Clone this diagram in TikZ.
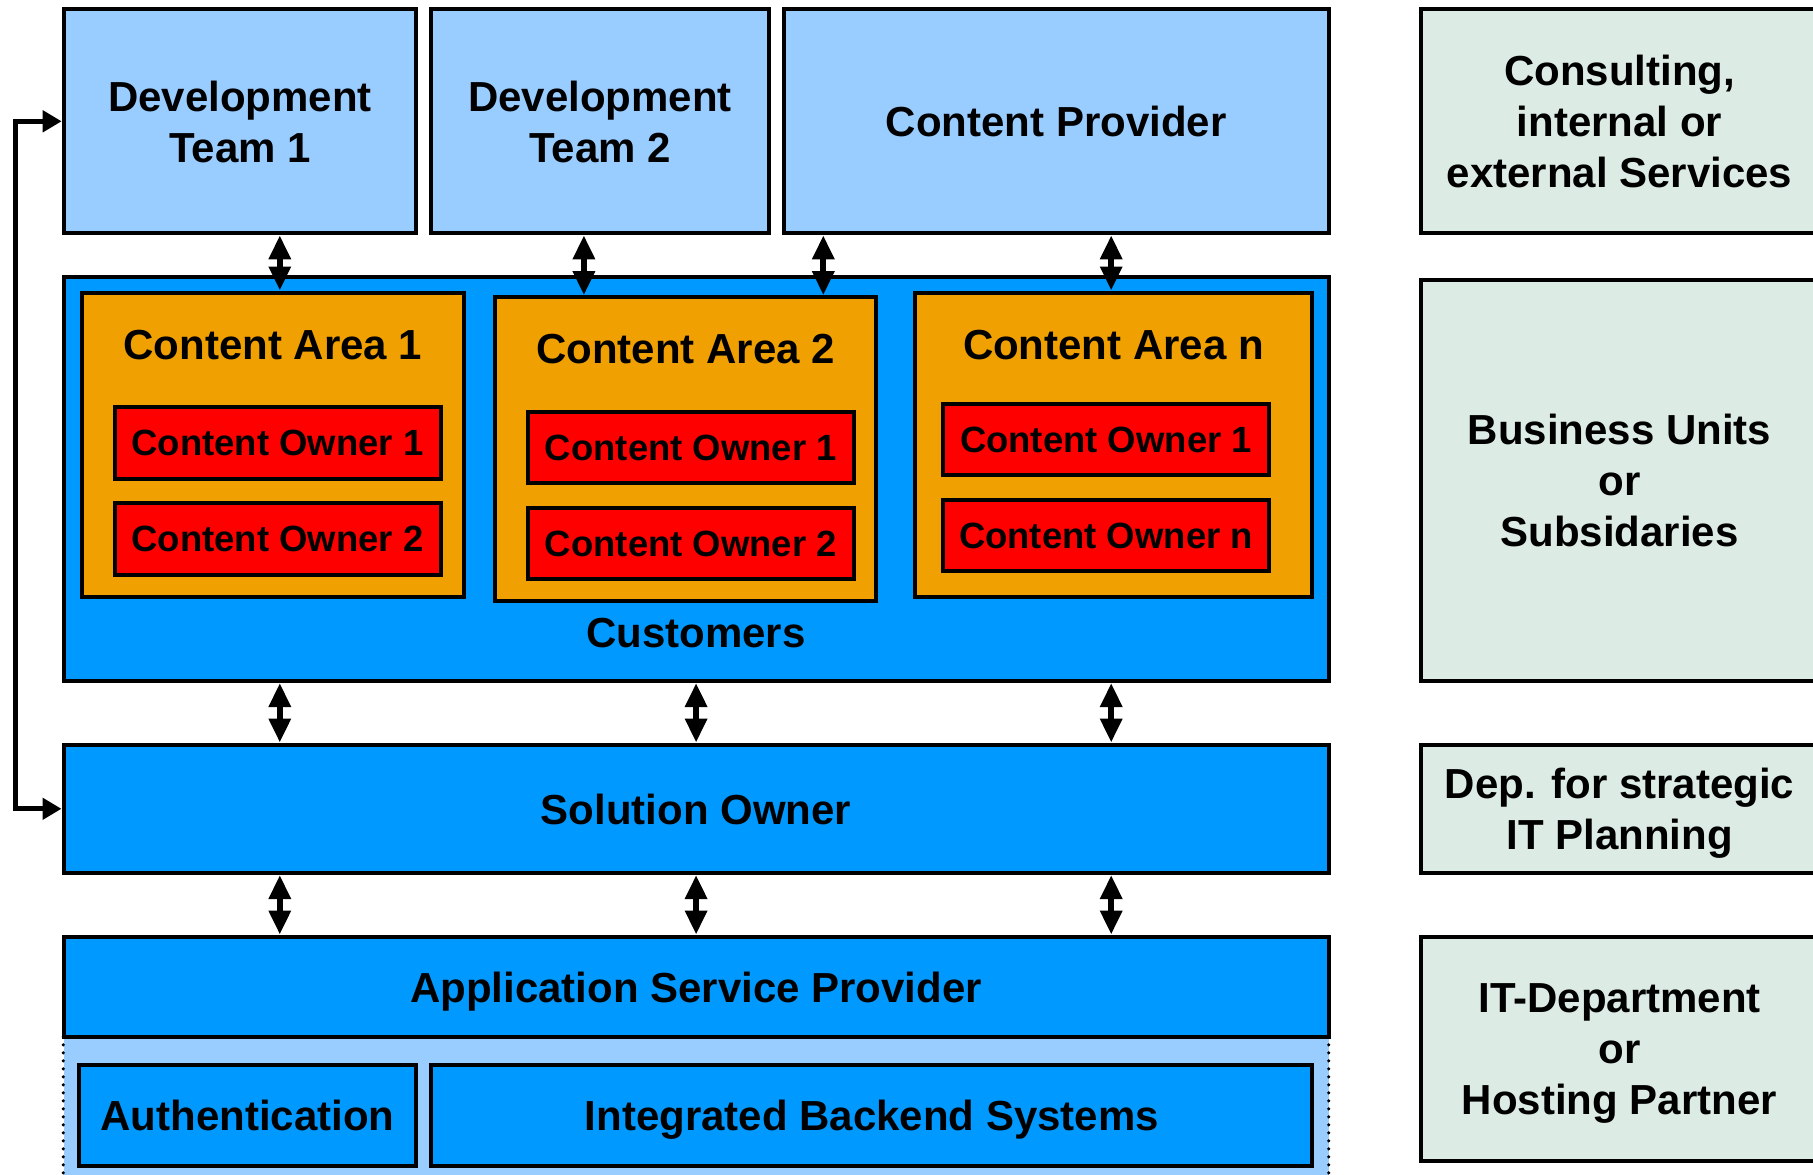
\documentclass[tikz,border=0pt]{standalone}
\usepackage{fontspec}
\setmainfont{Liberation Sans}
\usetikzlibrary{arrows.meta}
\definecolor{lblue}{HTML}{99CCFF}
\definecolor{mblue}{HTML}{0099FF}
\definecolor{orng}{HTML}{F0A000}
\definecolor{rd}{HTML}{FF0000}
\definecolor{grn}{HTML}{DCEBE3}
\begin{document}
\begin{tikzpicture}[x=1pt,y=-1pt,
  box/.style={draw=black, line width=4pt, inner sep=0pt, align=center, text depth=0pt,
    font=\fontsize{42}{51}\selectfont\bfseries, text=black},
  devbox/.style={box, fill=lblue, minimum height=224pt},
  areabox/.style={box, fill=orng, minimum height=304pt},
  ownerbox/.style={box, fill=rd, minimum width=326pt, minimum height=71.7pt,
    font=\fontsize{36.5}{44}\selectfont\bfseries},
  sidebox/.style={box, fill=grn, minimum width=397pt},
  bluebox/.style={box, fill=mblue},
  lbl/.style={inner sep=0pt, align=center, text depth=0pt, font=\fontsize{42}{51}\selectfont\bfseries},
  biarr/.style={line width=6pt, {Triangle[length=24pt,width=21pt]}-{Triangle[length=24pt,width=21pt]}},
  looparr/.style={line width=5pt, line join=miter, {Triangle[length=19pt,width=21pt]}-{Triangle[length=19pt,width=21pt]}},
  dotline/.style={line width=3.5pt, line cap=round, dash pattern=on 0pt off 8pt}
]
\fill[white] (0,0) rectangle (1813,1175);
\useasboundingbox (0,0) rectangle (1813,1175);

% top row
\node[devbox, minimum width=352.7pt] (dev1) at (240,121.3) {Development\\Team 1};
\node[devbox, minimum width=337.6pt] (dev2) at (600.1,121.3) {Development\\Team 2};
\node[devbox, minimum width=544.5pt] (cp) at (1056.3,121.3) {Content Provider};
\node[sidebox, minimum height=224pt] (cons) at (1619.5,121.3) {Consulting,\\internal or\\external Services};

% customers
\node[bluebox, minimum width=1265pt, minimum height=404pt] (cust) at (696,479) {};
\node[lbl] (custl) at (696,632.5) {Customers};

\node[areabox, minimum width=381.6pt] (ca1) at (272.9,444.5) {};
\node[areabox, minimum width=381.5pt] (ca2) at (685.6,449.2) {};
\node[areabox, minimum width=397.8pt] (can) at (1113.5,444.5) {};
\node[lbl] (ca1t) at (272.9,344.6) {Content Area 1};
\node[lbl] (ca2t) at (685.6,349.2) {Content Area 2};
\node[lbl] (cant) at (1113.5,344.6) {Content Area n};

\node[ownerbox] (o11) at (277.5,442.9) {Content Owner 1};
\node[ownerbox] (o12) at (277.5,538.9) {Content Owner 2};
\node[ownerbox] (o21) at (690.9,447.5) {Content Owner 1};
\node[ownerbox] (o22) at (690.9,543.5) {Content Owner 2};
\node[ownerbox] (on1) at (1106,439.4) {Content Owner 1};
\node[ownerbox] (onn) at (1106,535.4) {Content Owner n};

\node[sidebox, minimum height=401pt] (bu) at (1619.5,480.4) {Business Units\\or\\Subsidaries};

% solution owner
\node[bluebox, minimum width=1265pt, minimum height=128.4pt] (so) at (696,808.8) {Solution Owner};
\node[sidebox, minimum height=128.4pt] (dep) at (1619.5,808.8) {Dep. for strategic\\IT Planning};

% ASP area
\fill[lblue] (63.6,1037) rectangle (1328.5,1180);
\node[inner sep=0pt, minimum width=1265pt, minimum height=143pt] (aspzone) at (696,1108.5) {};
\draw[dotline] (aspzone.north west) -- (aspzone.south west);
\draw[dotline] (aspzone.north east) -- (aspzone.south east);
\node[bluebox, minimum width=1265pt, minimum height=100.6pt] (asp) at (696,986.9) {Application Service Provider};
\node[bluebox, minimum width=337.7pt, minimum height=100.6pt] (auth) at (247.5,1115.2) {Authentication};
\node[bluebox, minimum width=881pt, minimum height=100.6pt] (ibs) at (871.9,1115.2) {Integrated Backend Systems};
\node[sidebox, minimum height=224.3pt] (itd) at (1619.5,1048.8) {IT-Department\\or\\Hosting Partner};

% arrows
\coordinate (xa) at (279.8,0);
\coordinate (xb) at (583.9,0);
\coordinate (xc) at (823.3,0);
\coordinate (xd) at (1111.2,0);
\coordinate (xm) at (696.1,0);
\coordinate (lx) at (15,0);

\draw[biarr] (dev1.south -| xa) -- (ca1.north -| xa);
\draw[biarr] (dev2.south -| xb) -- (ca2.north -| xb);
\draw[biarr] (cp.south -| xc) -- (ca2.north -| xc);
\draw[biarr] (cp.south -| xd) -- (can.north -| xd);

\draw[biarr] (cust.south -| xa) -- (so.north -| xa);
\draw[biarr] (cust.south -| xm) -- (so.north -| xm);
\draw[biarr] (cust.south -| xd) -- (so.north -| xd);

\draw[biarr] (so.south -| xa) -- (asp.north -| xa);
\draw[biarr] (so.south -| xm) -- (asp.north -| xm);
\draw[biarr] (so.south -| xd) -- (asp.north -| xd);

\draw[looparr] (dev1.west) -- (dev1.west -| lx) -- (so.west -| lx) -- (so.west);
\end{tikzpicture}
\end{document}
